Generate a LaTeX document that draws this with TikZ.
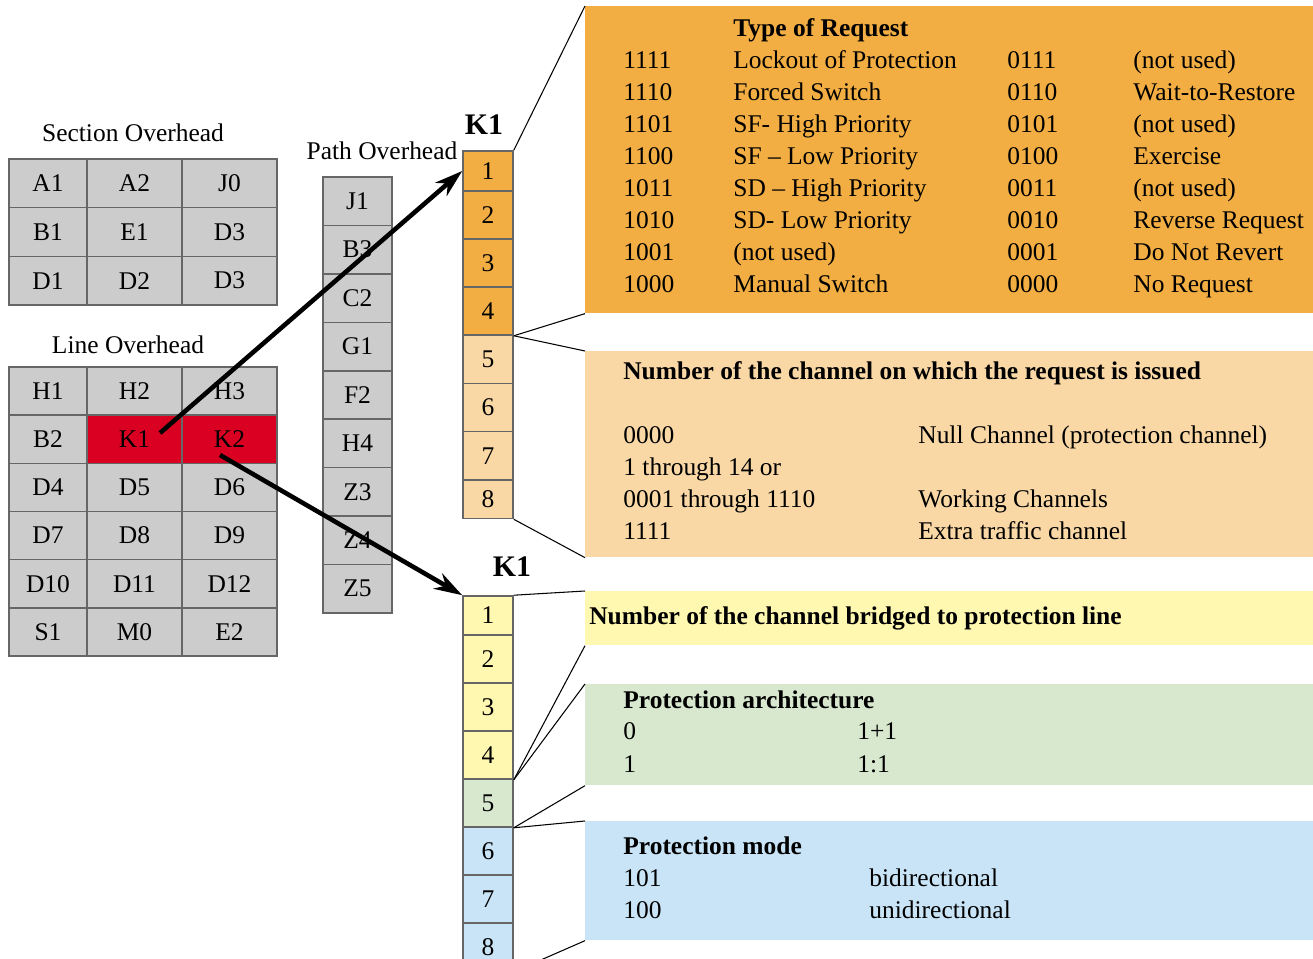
\documentclass[tikz,border=0pt]{standalone}
\usepackage{fontspec}
\setmainfont{Liberation Serif}
\usetikzlibrary{arrows.meta}

\definecolor{cellgray}{RGB}{204,204,204}
\definecolor{kred}{RGB}{218,0,33}
\definecolor{reqorange}{RGB}{242,174,67}
\definecolor{chanorange}{RGB}{249,216,166}
\definecolor{bridgeyellow}{RGB}{255,248,176}
\definecolor{archgreen}{RGB}{216,232,207}
\definecolor{modeblue}{RGB}{200,228,246}

\tikzset{
  txt/.style={inner sep=0pt, font=\fontsize{14.5}{17}\selectfont},
  cell/.style={txt, draw=black!60, line width=0.9pt, fill=cellgray},
  infobox/.style={inner sep=0pt, minimum width=14.56cm, anchor=north west},
  row/.style={txt, anchor=base west},
  head/.style={row, font=\fontsize{14.5}{17}\selectfont\bfseries},
  link/.style={line width=0.6pt},
  bigarrow/.style={->, line width=2.6pt}
}

\begin{document}
\begin{tikzpicture}[x=0.02cm, y=-0.02cm, >={Stealth[length=16pt,width=10pt]}]
  \path[use as bounding box, clip] (0,0) rectangle (1313,959);

  % Section Overhead
  \node[txt] (so-title) at (133,133) {Section Overhead};
  \foreach \a/\b/\c [count=\r] in {A1/A2/J0, B1/E1/D3, D1/D2/D3} {
    \node[cell, minimum width=1.56cm, minimum height=0.974cm] (so-\r-1) at (48, {159+48.67*(\r-0.5)}) {\a};
    \node[cell, minimum width=1.9cm, minimum height=0.974cm] (so-\r-2) at (134.5, {159+48.67*(\r-0.5)}) {\b};
    \node[cell, minimum width=1.9cm, minimum height=0.974cm] (so-\r-3) at (229.5, {159+48.67*(\r-0.5)}) {\c};
  }

  % Line Overhead
  \node[txt] (lo-title) at (128,345) {Line Overhead};
  \foreach \a/\b/\c/\f [count=\r] in {H1/H2/H3/cellgray, B2/K1/K2/kred, D4/D5/D6/cellgray,
      D7/D8/D9/cellgray, D10/D11/D12/cellgray, S1/M0/E2/cellgray} {
    \node[cell, minimum width=1.56cm, minimum height=0.963cm] (lo-\r-1) at (48, {367+48.17*(\r-0.5)}) {\a};
    \node[cell, fill=\f, minimum width=1.9cm, minimum height=0.963cm] (lo-\r-2) at (134.5, {367+48.17*(\r-0.5)}) {\b};
    \node[cell, fill=\f, minimum width=1.9cm, minimum height=0.963cm] (lo-\r-3) at (229.5, {367+48.17*(\r-0.5)}) {\c};
  }

  % Path Overhead
  \node[txt] (po-title) at (382,151) {Path Overhead};
  \foreach \t [count=\r] in {J1,B3,C2,G1,F2,H4,Z3,Z4,Z5} {
    \node[cell, minimum width=1.38cm, minimum height=0.969cm] (po-\r) at (357.5, {177+48.44*(\r-0.5)}) {\t};
  }

  % K1 byte, upper
  \node[txt, font=\fontsize{17}{20}\selectfont\bfseries] (up-title) at (484,125) {K1};
  \foreach \n/\t/\b/\f in {1/151/191/reqorange, 2/191/239/reqorange, 3/239/287/reqorange,
      4/287/335/reqorange, 5/335/383.5/chanorange, 6/383.5/431.5/chanorange,
      7/431.5/480/chanorange, 8/480/518.5/chanorange} {
    \node[cell, fill=\f, minimum width=1cm, minimum height={(\b-\t)*0.02cm}] (up\n) at (488, {(\t+\b)/2}) {\n};
  }

  % K1 byte, lower
  \node[txt, font=\fontsize{17}{20}\selectfont\bfseries] (low-title) at (512,567) {K1};
  \foreach \n/\t/\b/\f in {1/596/635/bridgeyellow, 2/635/683/bridgeyellow, 3/683/731/bridgeyellow,
      4/731/779/bridgeyellow, 5/779/827/archgreen, 6/827/875/modeblue,
      7/875/923/modeblue, 8/923/971/modeblue} {
    \node[cell, fill=\f, minimum width=1cm, minimum height={(\b-\t)*0.02cm}] (lo\n) at (488, {(\t+\b)/2}) {\n};
  }

  % Type of Request
  \node[infobox, fill=reqorange, minimum height=6.14cm] (req) at (585,6) {};
  \node[head] (req-head) at (733,37) {Type of Request};
  \foreach \a/\b/\c/\d [count=\r] in {1111/Lockout of Protection/0111/(not used),
      1110/Forced Switch/0110/Wait-to-Restore,
      1101/SF- High Priority/0101/(not used),
      1100/SF – Low Priority/0100/Exercise,
      1011/SD – High Priority/0011/(not used),
      1010/SD- Low Priority/0010/Reverse Request,
      1001/(not used)/0001/Do Not Revert,
      1000/Manual Switch/0000/No Request} {
    \node[row] (req-\r-a) at (623, {69+32*(\r-1)}) {\a};
    \node[row] (req-\r-b) at (733, {69+32*(\r-1)}) {\b};
    \node[row] (req-\r-c) at (1007, {69+32*(\r-1)}) {\c};
    \node[row] (req-\r-d) at (1133, {69+32*(\r-1)}) {\d};
  }

  % Channel number
  \node[infobox, fill=chanorange, minimum height=4.12cm] (chan) at (585,351) {};
  \node[head] (chan-head) at (623,380) {Number of the channel on which the request is issued};
  \node[row] (chan-1-a) at (623,444) {0000};
  \node[row] (chan-1-b) at (918,444) {Null Channel (protection channel)};
  \node[row] (chan-2-a) at (623,476) {1 through 14 or};
  \node[row] (chan-3-a) at (623,508) {0001 through 1110};
  \node[row] (chan-3-b) at (918,508) {Working Channels};
  \node[row] (chan-4-a) at (623,540) {1111};
  \node[row] (chan-4-b) at (918,540) {Extra traffic channel};

  % Bridged channel
  \node[infobox, fill=bridgeyellow, minimum height=1.08cm] (bridge) at (585,591) {};
  \node[head] (bridge-head) at (589,625) {Number of the channel bridged to protection line};

  % Architecture
  \node[infobox, fill=archgreen, minimum height=2.02cm] (arch) at (585,684) {};
  \node[head] (arch-head) at (623,708) {Protection architecture};
  \node[row] (arch-1-a) at (623,740) {0};
  \node[row] (arch-1-b) at (857,740) {1+1};
  \node[row] (arch-2-a) at (623,772) {1};
  \node[row] (arch-2-b) at (857,772) {1:1};

  % Mode
  \node[infobox, fill=modeblue, minimum height=2.38cm] (mode) at (585,821) {};
  \node[head] (mode-head) at (623,854) {Protection mode};
  \node[row] (mode-1-a) at (623,886) {101};
  \node[row] (mode-1-b) at (869,886) {bidirectional};
  \node[row] (mode-2-a) at (623,918) {100};
  \node[row] (mode-2-b) at (869,918) {unidirectional};

  % Fan-out lines
  \draw[link] (up1.north east) -- (req.north west);
  \draw[link] (up4.south east) -- (req.south west);
  \draw[link] (up4.south east) -- (chan.north west);
  \draw[link] (up8.south east) -- (chan.south west);
  \draw[link] (lo1.north east) -- (bridge.north west);
  \draw[link] (lo4.south east) -- (bridge.south west);
  \draw[link] (lo4.south east) -- (arch.north west);
  \draw[link] (lo5.south east) -- (arch.south west);
  \draw[link] (lo5.south east) -- (mode.north west);
  \draw[link] (lo8.south east) -- (mode.south west);

  % Arrows from K1 and K2
  \coordinate (k1tail) at (160,433);
  \coordinate (k2tail) at (220,455);
  \draw[bigarrow] (k1tail) -- (up1.west);
  \draw[bigarrow] (k2tail) -- (lo1.north west);
\end{tikzpicture}
\end{document}
